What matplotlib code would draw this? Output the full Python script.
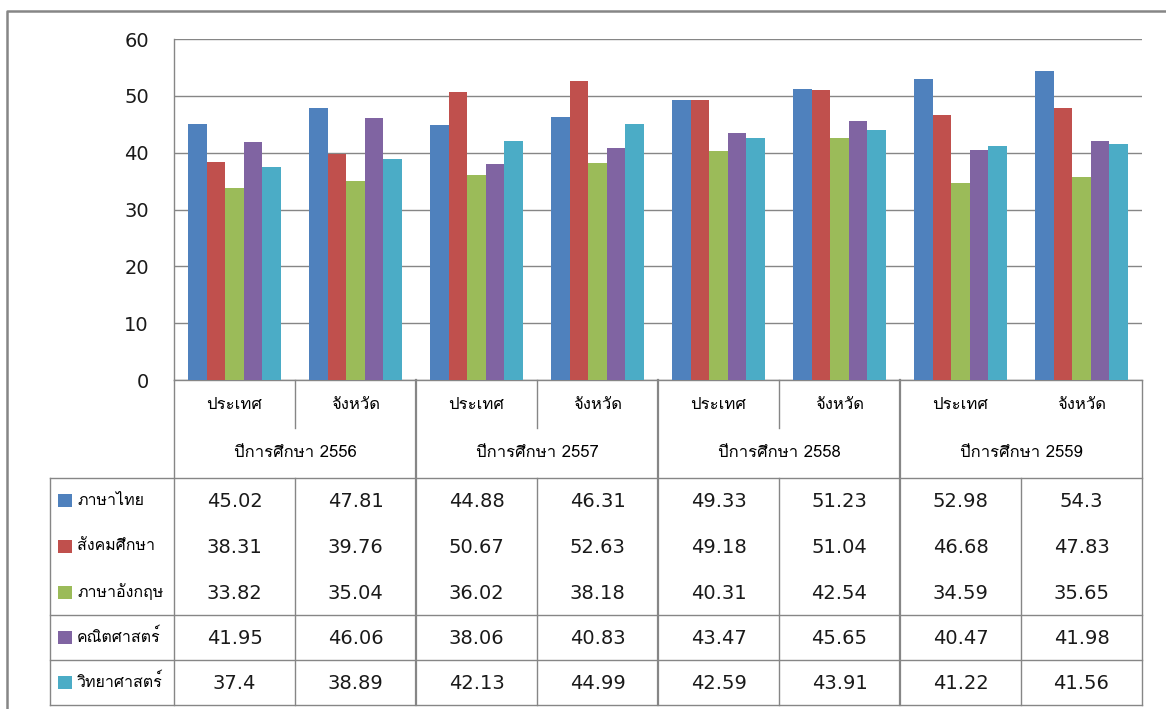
import numpy as np
import matplotlib
matplotlib.use('Agg')
import matplotlib.pyplot as plt
from matplotlib import font_manager
from matplotlib.ft2font import FT2Font
from matplotlib.patches import Rectangle

# data
years = ['ปีการศึกษา 2556', 'ปีการศึกษา 2557', 'ปีการศึกษา 2558', 'ปีการศึกษา 2559']
levels = ['ประเทศ', 'จังหวัด']
subjects = ['ภาษาไทย', 'สังคมศึกษา', 'ภาษาอังกฤษ', 'คณิตศาสตร์', 'วิทยาศาสตร์']
colors = ['#4F81BD', '#C0504D', '#9BBB59', '#8064A2', '#4BACC6']

thai = [45.02, 47.81, 44.88, 46.31, 49.33, 51.23, 52.98, 54.3]
social = [38.31, 39.76, 50.67, 52.63, 49.18, 51.04, 46.68, 47.83]
english = [33.82, 35.04, 36.02, 38.18, 40.31, 42.54, 34.59, 35.65]
math = [41.95, 46.06, 38.06, 40.83, 43.47, 45.65, 40.47, 41.98]
science = [37.4, 38.89, 42.13, 44.99, 42.59, 43.91, 41.22, 41.56]
series = [thai, social, english, math, science]


def find_thai_font():
    # pick any installed font that has Thai glyphs
    for f in font_manager.fontManager.ttflist:
        try:
            if 0x0E01 in FT2Font(f.fname).get_charmap():
                return f.name
        except Exception:
            pass
    return 'DejaVu Sans'


thai_font = [find_thai_font(), 'DejaVu Sans']
grey = '#868686'

W, H = 1166, 709
fig = plt.figure(figsize=(W / 100, H / 100), dpi=100)

# bar chart
ax = fig.add_axes([174 / W, 1 - 380 / H, (1142 - 174) / W, (380 - 39) / H])
x = np.arange(len(thai))
width = 0.153
for i, (vals, c) in enumerate(zip(series, colors)):
    ax.bar(x + (i - 2) * width, vals, width, color=c, zorder=3)
ax.set_xlim(-0.5, len(thai) - 0.5)
ax.set_ylim(0, 60)
ax.set_yticks(range(0, 61, 10))
ax.set_xticks([])
ax.yaxis.grid(True, color=grey, lw=1)
ax.set_axisbelow(True)
ax.tick_params(axis='y', length=0, pad=18, labelsize=14, labelcolor='#1a1a1a')
for s in ['top', 'right']:
    ax.spines[s].set_visible(False)
for s in ['left', 'bottom']:
    ax.spines[s].set_color(grey)
    ax.spines[s].set_linewidth(1)

# data table under the chart, drawn in pixel coordinates
tb = fig.add_axes([0, 0, 1, 1], facecolor='none')
tb.set_xlim(0, W)
tb.set_ylim(H, 0)
tb.axis('off')

# outer chart frame
tb.plot([7, 7, W], [H, 11, 11], color=grey, lw=1.8)

x0, cw = 174, 121
edges = [x0 + cw * k for k in range(len(thai) + 1)]
top, mid, head, bottom = 380, 428, 478, 705
row_h = (615 - head) / 3
row_y = [head + row_h * (r + 0.5) for r in range(3)] + [637.5, 682.5]
row_lines = [head, 615, 660, bottom]

# horizontal lines
for y in row_lines:
    tb.plot([50, edges[-1]], [y, y], color=grey, lw=1)
# vertical lines
tb.plot([50, 50], [head, bottom], color=grey, lw=1)
for k, ex in enumerate(edges):
    if k % 2 == 0:
        lw = 1 if k in (0, len(edges) - 1) else 1.6
        tb.plot([ex, ex], [top, bottom], color=grey, lw=lw)
    else:
        tb.plot([ex, ex], [head, bottom], color=grey, lw=1)
        if k < len(edges) - 2:
            tb.plot([ex, ex], [top, mid], color=grey, lw=1)

# header labels
for k in range(len(thai)):
    cx = edges[k] + cw / 2
    tb.text(cx, 405, levels[k % 2], ha='center', va='center',
            fontsize=12, family=thai_font, color='black')
for j, yr in enumerate(years):
    cx = edges[2 * j] + cw
    tb.text(cx, 453, yr, ha='center', va='center',
            fontsize=12, family=thai_font, color='black')

# legend column and values
for r, (name, vals, c) in enumerate(zip(subjects, series, colors)):
    y = row_y[r]
    tb.add_patch(Rectangle((58, y - 6.5), 14, 13, color=c, lw=0))
    tb.text(77, y, name, ha='left', va='center', fontsize=11.5,
            family=thai_font, color='black')
    for k, v in enumerate(vals):
        tb.text(edges[k] + cw / 2, y + 1, f'{v:g}', ha='center', va='center',
                fontsize=14, color='#1a1a1a')

fig.savefig('out.png', dpi=100)
